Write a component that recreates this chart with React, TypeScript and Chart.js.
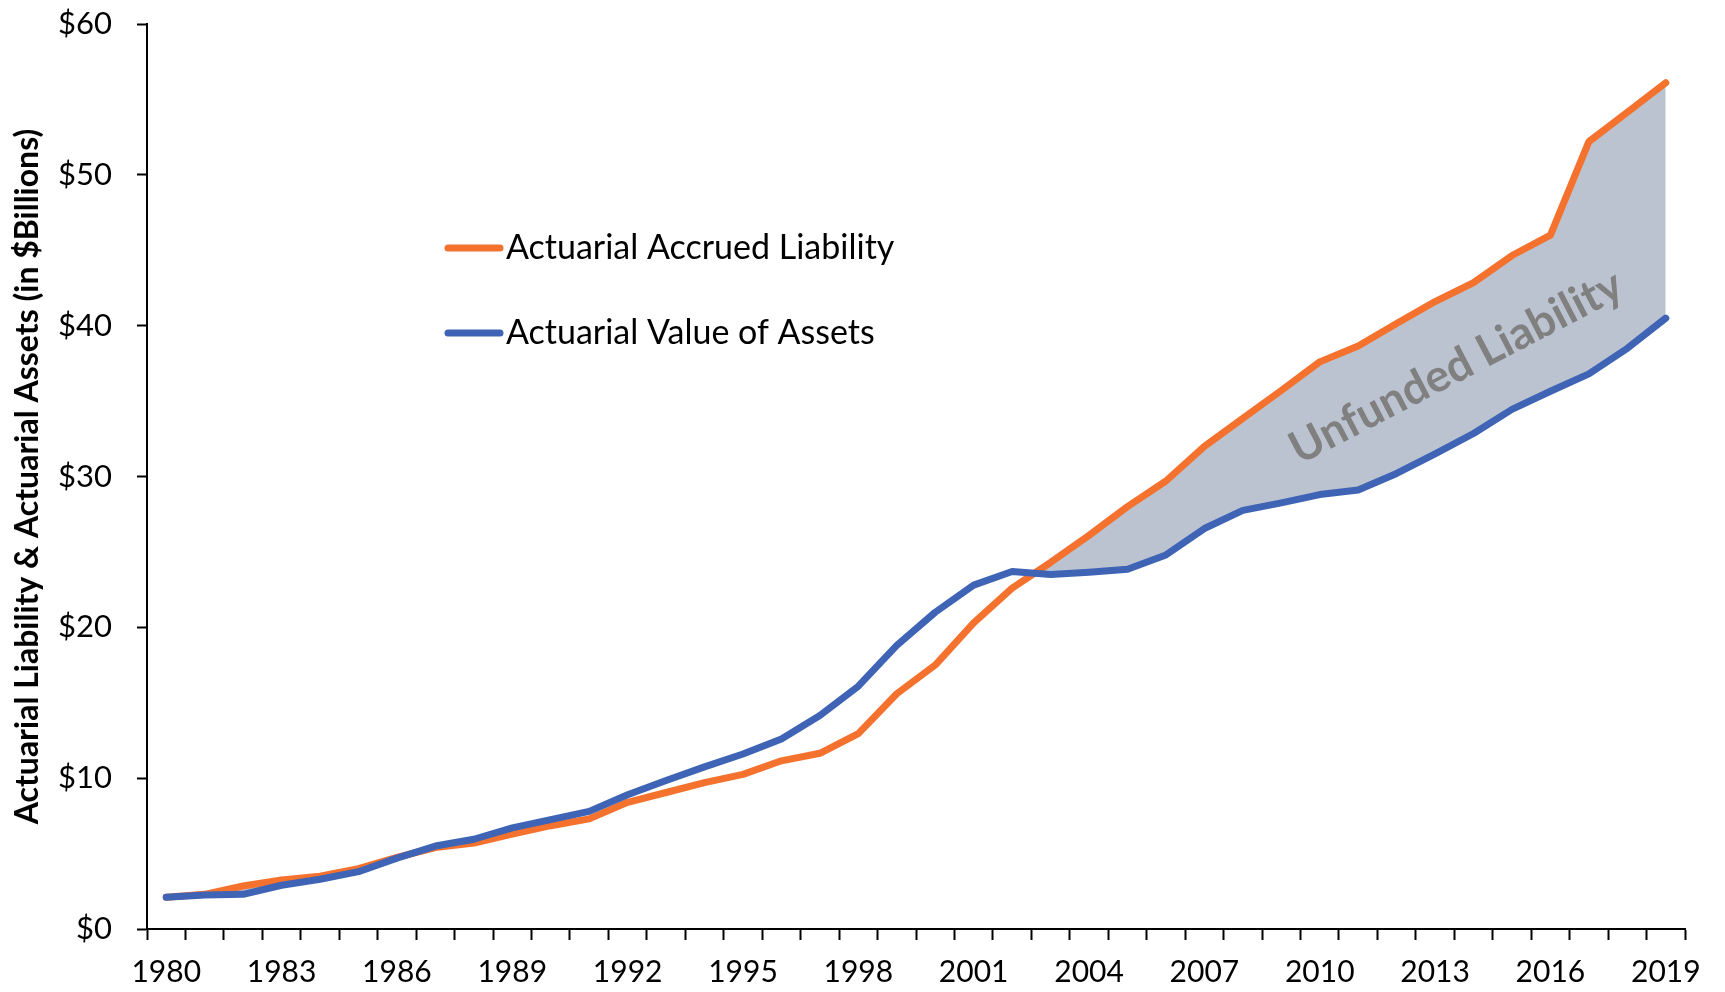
import React, { useEffect, useRef } from "react";
import { Chart, registerables } from "chart.js";

Chart.register(...registerables);

const years = [
  "1980", "1981", "1982", "1983", "1984", "1985", "1986", "1987", "1988", "1989",
  "1990", "1991", "1992", "1993", "1994", "1995", "1996", "1997", "1998", "1999",
  "2000", "2001", "2002", "2003", "2004", "2005", "2006", "2007", "2008", "2009",
  "2010", "2011", "2012", "2013", "2014", "2015", "2016", "2017", "2018", "2019",
];

const liability = [
  2.1, 2.3, 2.85, 3.25, 3.5, 4.0, 4.75, 5.4, 5.7, 6.3,
  6.85, 7.3, 8.4, 9.05, 9.7, 10.25, 11.15, 11.65, 12.95, 15.6,
  17.5, 20.3, 22.6, 24.3, 26.1, 28.0, 29.7, 32.0, 33.85, 35.7,
  37.6, 38.65, 40.15, 41.6, 42.85, 44.65, 46.0, 52.2, 54.15, 56.1,
];

const assets = [
  2.1, 2.25, 2.3, 2.9, 3.3, 3.8, 4.7, 5.5, 5.95, 6.7,
  7.25, 7.8, 8.9, 9.85, 10.75, 11.6, 12.6, 14.15, 16.1, 18.8,
  21.0, 22.8, 23.7, 23.5, 23.65, 23.85, 24.8, 26.55, 27.75, 28.25,
  28.8, 29.1, 30.2, 31.5, 32.85, 34.45, 35.65, 36.8, 38.5, 40.5,
];

const seriesNames = ["Actuarial Accrued Liability", "Actuarial Value of Assets"];
const yAxisTitle = "Actuarial Liability & Actuarial Assets (in $Billions)";
const annotationText = "Unfunded Liability";
const annotationAt = { index: 33.55, value: 37.25 };

const ORANGE = "#F4722E";
const BLUE = "#3F64B5";
const FILL = "#BCC3D0";
const FONT = "Lato";

const overlayPlugin = {
  id: "overlay",
  afterDatasetsDraw(chart: any) {
    const { ctx, scales } = chart;
    const x = scales.x.getPixelForValue(annotationAt.index);
    const y = scales.y.getPixelForValue(annotationAt.value);
    ctx.save();
    ctx.translate(x, y);
    ctx.rotate((-27.5 * Math.PI) / 180);
    ctx.font = `bold 45px ${FONT}`;
    ctx.fillStyle = "#808080";
    ctx.textAlign = "center";
    ctx.textBaseline = "middle";
    ctx.fillText(annotationText, 0, 0);
    ctx.restore();
  },
  afterDraw(chart: any) {
    const { ctx } = chart;
    const items = [
      { label: seriesNames[0], color: ORANGE, y: 248 },
      { label: seriesNames[1], color: BLUE, y: 333 },
    ];
    ctx.save();
    for (const it of items) {
      ctx.strokeStyle = it.color;
      ctx.lineWidth = 7;
      ctx.lineCap = "round";
      ctx.beginPath();
      ctx.moveTo(448, it.y);
      ctx.lineTo(500, it.y);
      ctx.stroke();
      ctx.fillStyle = "#000";
      ctx.font = `34px ${FONT}`;
      ctx.textAlign = "left";
      ctx.textBaseline = "middle";
      ctx.fillText(it.label, 506, it.y);
    }
    ctx.restore();
  },
};

export default function App() {
  const ref = useRef<HTMLCanvasElement | null>(null);
  useEffect(() => {
    if (!ref.current) return;
    const chart = new Chart(ref.current, {
      type: "line",
      data: {
        labels: years,
        datasets: [
          {
            label: seriesNames[0],
            data: liability,
            borderColor: ORANGE,
            borderWidth: 7,
            pointRadius: 0,
            tension: 0,
            borderCapStyle: "round",
            borderJoinStyle: "round",
            order: 1,
            fill: { target: 1, above: FILL, below: "rgba(0,0,0,0)" },
          },
          {
            label: seriesNames[1],
            data: assets,
            borderColor: BLUE,
            borderWidth: 7,
            pointRadius: 0,
            tension: 0,
            borderCapStyle: "round",
            borderJoinStyle: "round",
            order: 0,
            fill: false,
          },
        ],
      },
      options: {
        responsive: false,
        animation: false,
        layout: { padding: { top: 24, right: 40, left: 0, bottom: 0 } },
        plugins: {
          legend: { display: false },
          tooltip: { enabled: false },
        },
        scales: {
          x: {
            type: "category",
            offset: true,
            grid: {
              display: true,
              offset: true,
              drawOnChartArea: false,
              drawTicks: true,
              tickLength: 11,
              tickWidth: 2,
              tickColor: "#000",
            },
            border: { display: true, color: "#000", width: 2 },
            ticks: {
              autoSkip: false,
              maxRotation: 0,
              padding: 14,
              color: "#000",
              font: { family: FONT, size: 30 },
              callback: (_v: any, i: number) => (i % 3 === 0 ? years[i] : ""),
            },
            afterFit: (s: any) => {
              s.height = 63;
            },
          },
          y: {
            min: 0,
            max: 60,
            grid: {
              display: true,
              drawOnChartArea: false,
              drawTicks: true,
              tickLength: 10,
              tickWidth: 2,
              tickColor: "#000",
            },
            border: { display: true, color: "#000", width: 2 },
            ticks: {
              stepSize: 10,
              padding: 25,
              color: "#000",
              font: { family: FONT, size: 31 },
              callback: (v: any) => "$" + v,
            },
            title: {
              display: true,
              text: yAxisTitle,
              color: "#000",
              font: { family: FONT, size: 32, weight: "bold" },
              padding: { top: 8, bottom: 0 },
            },
            afterFit: (s: any) => {
              s.width = 147;
              s.paddingTop = 0;
              s.paddingBottom = 0;
            },
          },
        },
      },
      plugins: [overlayPlugin],
    });
    return () => chart.destroy();
  }, []);
  return (
    <div style={{ position: "absolute", left: 0, top: 0, width: 1725, height: 992, background: "#fff" }}>
      <canvas ref={ref} width={1725} height={992} style={{ display: "block" }} />
    </div>
  );
}
